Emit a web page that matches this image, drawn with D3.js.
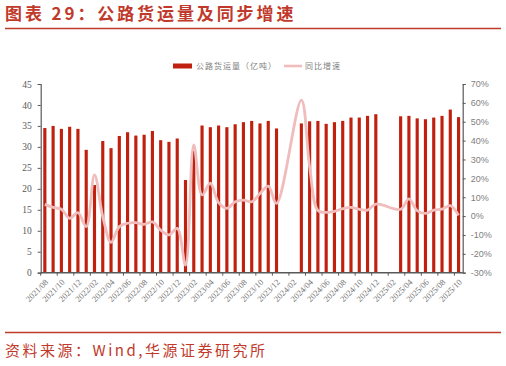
<!DOCTYPE html>
<html>
<head>
<meta charset="utf-8">
<script src="https://cdn.jsdelivr.net/npm/d3@7"></script>
<style>
  body { margin: 0; background: #fff; }
  svg { display: block; }
</style>
</head>
<body>
<div id="chart"></div>
<script>
// months on the x axis
var months = [
  "2021/08","2021/09","2021/10","2021/11","2021/12",
  "2022/01","2022/02","2022/03","2022/04","2022/05","2022/06","2022/07","2022/08","2022/09","2022/10","2022/11","2022/12",
  "2023/01","2023/02","2023/03","2023/04","2023/05","2023/06","2023/07","2023/08","2023/09","2023/10","2023/11","2023/12",
  "2024/01","2024/02","2024/03","2024/04","2024/05","2024/06","2024/07","2024/08","2024/09","2024/10","2024/11","2024/12",
  "2025/01","2025/02","2025/03","2025/04","2025/05","2025/06","2025/07","2025/08","2025/09","2025/10"
];

// 公路货运量（亿吨）, null = no data
var volume = [
  34.5, 35.0, 34.3, 34.8, 34.3,
  29.3, 20.9, 31.4, 29.7, 32.6, 33.5, 32.7, 32.9, 33.8, 31.6, 31.2, 32.0,
  22.1, 29.0, 35.1, 34.7, 35.1, 34.7, 35.4, 35.9, 36.2, 35.6, 36.2, 34.4,
  null, null, 35.6, 36.1, 36.2, 35.5, 35.9, 36.2, 37.0, 37.0, 37.4, 37.8,
  null, null, 37.3, 37.4, 36.8, 36.6, 37.0, 37.4, 38.9, 37.1
];

// 同比增速 (%)
var growth = [
  6.2, 4.6, 3.6, -1.2, 1.8,
  -5.6, 21.8, -0.3, -13.9, -5.6, -3.8, -3.5, -4.4, -3.1, -7.4, -10.0, -6.5,
  -26.0, 37.7, 11.2, 17.4, 7.1, 4.1, 7.6, 8.5, 7.6, 12.0, 15.9, 6.7,
  null, null, 61.5, 26.0, 3.0, 2.0, 2.5, 3.9, 4.6, 3.6, 3.2, 6.4,
  null, null, 3.6, 9.1, 2.9, 1.4, 3.2, 3.7, 5.5, 0.4
];

var leftTicks = [0, 5, 10, 15, 20, 25, 30, 35, 40, 45];
var rightTicks = [-30, -20, -10, 0, 10, 20, 30, 40, 50, 60, 70];

var W = 506, H = 366;
var red = "#c0392b";
var barColor = "#c0200e";
var lineColor = "#f0bcbc";
var axisColor = "#595959";

var svg = d3.select("#chart").append("svg")
  .attr("width", W)
  .attr("height", H);

// title + rules
svg.append("text")
  .attr("x", 5).attr("y", 20)
  .attr("fill", red)
  .attr("font-family", "Noto Sans CJK SC")
  .attr("font-size", 17)
  .attr("font-weight", 700)
  .attr("letter-spacing", 2.9)
  .text("图表 29：公路货运量及同步增速");

svg.append("line")
  .attr("x1", 5).attr("x2", 501).attr("y1", 28.5).attr("y2", 28.5)
  .attr("stroke", red).attr("stroke-width", 1.5);

svg.append("line")
  .attr("x1", 5).attr("x2", 501).attr("y1", 332.5).attr("y2", 332.5)
  .attr("stroke", red).attr("stroke-width", 1.5);

svg.append("text")
  .attr("x", 5).attr("y", 356)
  .attr("fill", red)
  .attr("font-family", "Noto Sans CJK SC")
  .attr("font-size", 15)
  .attr("letter-spacing", 2.5)
  .text("资料来源：Wind,华源证券研究所");

// plot area
var plotL = 40.7, plotR = 462.7, plotT = 84, plotB = 272.7;

var x = d3.scaleBand()
  .domain(months)
  .range([plotL, plotR])
  .paddingInner(0.62)
  .paddingOuter(0.31);

var y = d3.scaleLinear().domain([0, 45]).range([plotB, plotT]);
var y2 = d3.scaleLinear().domain([-30, 70]).range([plotB, plotT]);

// bars
svg.append("g").selectAll("rect")
  .data(months.map(function(m, i) { return { m: m, v: volume[i] }; })
    .filter(function(d) { return d.v != null; }))
  .enter().append("rect")
  .attr("x", function(d) { return x(d.m); })
  .attr("y", function(d) { return y(d.v); })
  .attr("width", x.bandwidth())
  .attr("height", function(d) { return plotB - y(d.v); })
  .attr("fill", barColor);

// growth line, gaps bridged
var pts = months.map(function(m, i) { return { m: m, v: growth[i] }; })
  .filter(function(d) { return d.v != null; });

var line = d3.line()
  .x(function(d) { return x(d.m) + x.bandwidth() / 2; })
  .y(function(d) { return y2(d.v); })
  .curve(d3.curveCatmullRom.alpha(0.5));

svg.append("path")
  .datum(pts)
  .attr("d", line)
  .attr("fill", "none")
  .attr("stroke", lineColor)
  .attr("stroke-width", 2.8)
  .attr("stroke-linejoin", "round");

// left axis
var yAxis = svg.append("g")
  .attr("transform", "translate(" + plotL + ",0)")
  .call(d3.axisLeft(y).tickValues(leftTicks).tickSize(3).tickPadding(6));
yAxis.select(".domain").attr("stroke", axisColor).attr("stroke-width", 1.2);
yAxis.selectAll(".tick line").attr("stroke", axisColor);
yAxis.selectAll("text")
  .attr("fill", axisColor)
  .attr("font-family", "Liberation Serif")
  .attr("font-size", 9.5);

// right axis
var y2Axis = svg.append("g")
  .attr("transform", "translate(" + plotR + ",0)")
  .call(d3.axisRight(y2).tickValues(rightTicks).tickSize(3).tickPadding(5)
    .tickFormat(function(d) { return d + "%"; }));
y2Axis.select(".domain").attr("stroke", axisColor).attr("stroke-width", 1.2);
y2Axis.selectAll(".tick line").attr("stroke", axisColor);
y2Axis.selectAll("text")
  .attr("fill", "#808080")
  .attr("font-family", "Liberation Sans")
  .attr("font-size", 9);

// x axis
var xAxis = svg.append("g")
  .attr("transform", "translate(0," + plotB + ")");
xAxis.append("line")
  .attr("x1", plotL).attr("x2", plotR)
  .attr("stroke", axisColor).attr("stroke-width", 1.5);
var tickMonths = months.filter(function(m, i) { return i % 2 === 0; });
xAxis.selectAll(".xt")
  .data(tickMonths)
  .enter().append("line")
  .attr("class", "xt")
  .attr("x1", function(d) { return x(d) - x.step() * x.paddingOuter(); })
  .attr("x2", function(d) { return x(d) - x.step() * x.paddingOuter(); })
  .attr("y1", 0).attr("y2", 3)
  .attr("stroke", axisColor);
xAxis.selectAll(".xl")
  .data(tickMonths)
  .enter().append("text")
  .attr("class", "xl")
  .attr("transform", function(d) {
    return "translate(" + (x(d) + x.bandwidth() / 2 + 4) + ",10) rotate(-45)";
  })
  .attr("text-anchor", "end")
  .attr("fill", "#707070")
  .attr("font-family", "Liberation Serif")
  .attr("font-size", 8.5)
  .text(function(d) { return d; });

// legend
var lg = svg.append("g").attr("font-family", "Noto Sans CJK SC").attr("font-size", 8).attr("fill", "#808080");
lg.append("rect").attr("x", 173).attr("y", 63.5).attr("width", 19).attr("height", 5).attr("fill", barColor);
lg.append("text").attr("x", 196).attr("y", 69).attr("letter-spacing", 1).text("公路货运量（亿吨）");
lg.append("line").attr("x1", 284).attr("x2", 302).attr("y1", 66).attr("y2", 66)
  .attr("stroke", lineColor).attr("stroke-width", 2.6);
lg.append("text").attr("x", 305).attr("y", 69).attr("letter-spacing", 1).text("同比增速");
</script>
</body>
</html>
